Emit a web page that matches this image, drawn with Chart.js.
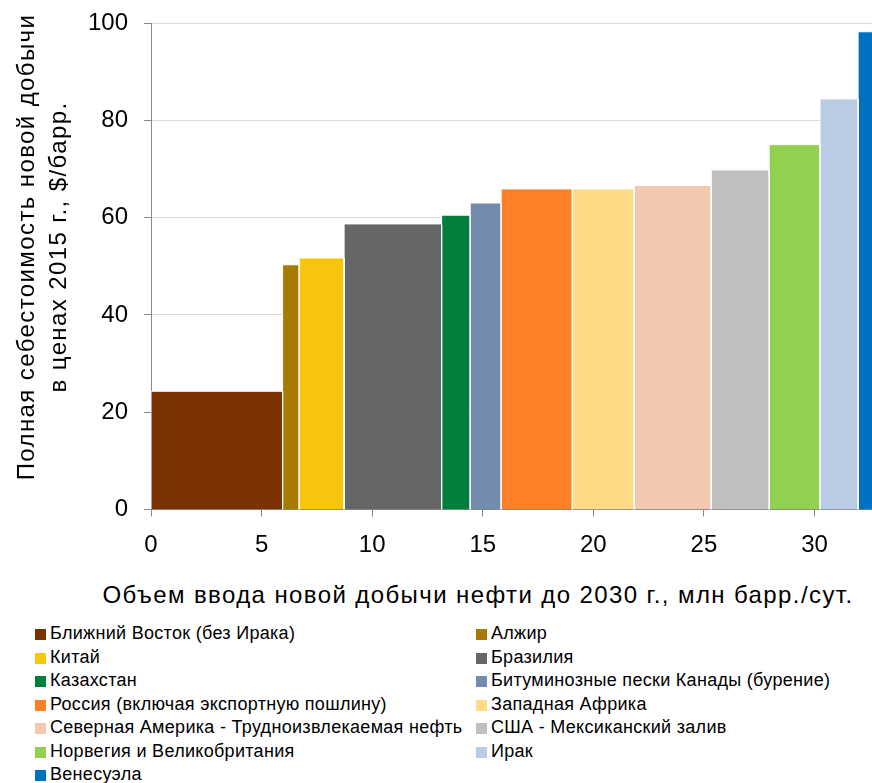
<!DOCTYPE html>
<html>
<head>
<meta charset="utf-8">
<script src="https://cdn.jsdelivr.net/npm/chart.js@4.4.1/dist/chart.umd.min.js"></script>
<style>
  body { margin: 0; background: #fff; font-family: "Liberation Sans", Arial, sans-serif; color: #000; }
  #wrap { position: relative; width: 872px; height: 783px; overflow: hidden; }
  #chart { position: absolute; left: 0; top: 0; }
  #ytitle { position: absolute; width: 600px; height: 64px; line-height: 32px; font-size: 24px; letter-spacing: 1.4px;
            text-align: center; white-space: nowrap; transform: rotate(-90deg); }
  #xtitle { position: absolute; left: 0; width: 956px; top: 583px; font-size: 24px; line-height: 24px; letter-spacing: 1.4px;
            text-align: center; white-space: nowrap; }
  #legend { position: absolute; left: 35px; top: 622px; display: grid;
            grid-template-columns: 441px 400px; font-size: 18px; line-height: 23.5px; letter-spacing: 0.3px; }
  #legend div { white-space: nowrap; }
  #legend span { display: inline-block; width: 11px; height: 11px; margin-right: 4px; vertical-align: -1px; }
</style>
</head>
<body>
<div id="wrap">
  <canvas id="chart" width="872" height="560"></canvas>
  <div id="ytitle">Полная себестоимость новой добычи<br>в ценах 2015 г., $/барр.</div>
  <div id="xtitle">Объем ввода новой добычи нефти до 2030 г., млн барр./сут.</div>
  <div id="legend"></div>
</div>
<script>
const regions = [
  'Ближний Восток (без Ирака)', 'Алжир', 'Китай', 'Бразилия', 'Казахстан',
  'Битуминозные пески Канады (бурение)', 'Россия (включая экспортную пошлину)',
  'Западная Африка', 'Северная Америка - Трудноизвлекаемая нефть',
  'США - Мексиканский залив', 'Норвегия и Великобритания', 'Ирак', 'Венесуэла'
];
// объем ввода, млн барр./сут.
const volumes = [5.95, 0.75, 2.03, 4.41, 1.29, 1.40, 3.22, 2.80, 3.48, 2.62, 2.30, 1.72, 1.6];
// себестоимость, $/барр.
const costs = [24.3, 50.3, 51.7, 58.7, 60.5, 63.0, 65.9, 65.9, 66.6, 69.8, 75.0, 84.4, 98.2];
const colors = ['#7b3200', '#a87b00', '#f8c50e', '#666666', '#00803a', '#738bad', '#ff7f27',
                '#ffdb87', '#f2c8b0', '#bfbfbf', '#92d050', '#b9cce4', '#0070c0'];
const xTicks = [0, 5, 10, 15, 20, 25, 30];
const yTicks = [0, 20, 40, 60, 80, 100];

const font = '"Liberation Sans", Arial, sans-serif';

// y title placement
const yt = document.getElementById('ytitle');
yt.style.left = (42 - 300) + 'px';
yt.style.top = (247 - 32) + 'px';

// bars as filled step outlines
let start = 0;
const datasets = regions.map((name, i) => {
  const end = start + volumes[i];
  const ds = {
    label: name,
    data: [{x: start, y: 0}, {x: start, y: costs[i]}, {x: end, y: costs[i]}, {x: end, y: 0}],
    showLine: true,
    fill: 'origin',
    backgroundColor: colors[i],
    borderColor: '#ffffff',
    borderWidth: 1,
    pointRadius: 0,
    tension: 0
  };
  start = end;
  return ds;
});

const legend = document.getElementById('legend');
regions.forEach((name, i) => {
  const d = document.createElement('div');
  d.innerHTML = '<span style="background:' + colors[i] + '"></span>' + name;
  legend.appendChild(d);
});

new Chart(document.getElementById('chart'), {
  type: 'scatter',
  data: { datasets: datasets },
  options: {
    responsive: false,
    animation: false,
    layout: { padding: { top: 23, left: 0, right: 0, bottom: 0 } },
    plugins: { legend: { display: false }, tooltip: { enabled: false } },
    scales: {
      x: {
        type: 'linear', min: 0, max: 32.6,
        afterFit: (s) => { s.height = 50.5; s.paddingLeft = 0; s.paddingRight = 0; },
        afterBuildTicks: (s) => { s.ticks = xTicks.map(v => ({value: v})); },
        ticks: { color: '#000', font: { size: 24, family: font }, padding: 14, maxRotation: 0 },
        grid: { drawOnChartArea: false, tickLength: 7, tickColor: '#898989' },
        border: { color: '#898989' }
      },
      y: {
        min: 0, max: 100,
        afterFit: (s) => { s.width = 151; s.paddingTop = 0; s.paddingBottom = 0; },
        afterBuildTicks: (s) => { s.ticks = yTicks.map(v => ({value: v})); },
        ticks: { color: '#000', font: { size: 24, family: font }, padding: 16 },
        grid: { color: '#d9d9d9', tickColor: '#898989', tickLength: 7 },
        border: { color: '#898989' }
      }
    }
  }
});
</script>
</body>
</html>
